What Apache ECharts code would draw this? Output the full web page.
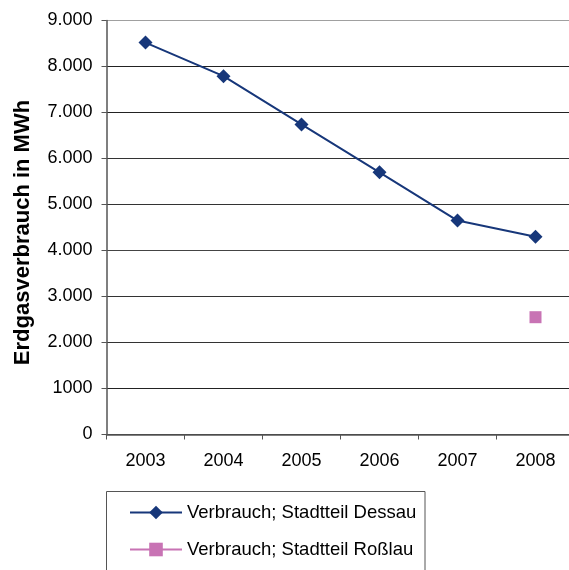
<!DOCTYPE html>
<html>
<head>
<meta charset="utf-8">
<script src="https://cdn.jsdelivr.net/npm/echarts@6/dist/echarts.min.js"></script>
<style>
  html, body { margin: 0; padding: 0; background: #fff; }
  #chart { width: 569px; height: 570px; }
</style>
</head>
<body>
<div id="chart"></div>
<script>
// Years on the category axis
const years = ['2003', '2004', '2005', '2006', '2007', '2008'];
// Natural gas consumption in MWh
const dessau = [8520, 7790, 6740, 5700, 4650, 4300];
const rosslau = [null, null, null, null, null, 2550];
// Value-axis tick labels, from 0 up to 9000
const yTickLabels = ['0', '1000', '2.000', '3.000', '4.000', '5.000', '6.000', '7.000', '8.000', '9.000'];

const font = '"Liberation Sans", Arial, sans-serif';
const chart = echarts.init(document.getElementById('chart'), null, { renderer: 'canvas' });

// interior gridlines dark, top edge of the plot area lighter
const gridColors = ['#333', '#222', '#333', '#333', '#444', '#333', '#333', '#222', '#222', '#a0a0a0'];

chart.setOption({
  animation: false,
  textStyle: { fontFamily: font },
  // the plot area runs slightly past the right edge of the page
  grid: { left: 106.5, top: 20.5, width: 468, height: 414, containLabel: false, outerBoundsMode: 'none' },
  // framed box behind the legend, open at the bottom edge
  graphic: [{
    type: 'rect',
    shape: { x: 106.5, y: 491.5, width: 318.5, height: 100 },
    style: { fill: 'none', stroke: '#555', lineWidth: 1 },
    z: 0
  }],
  xAxis: {
    type: 'category',
    data: years,
    boundaryGap: true,
    axisLine: { lineStyle: { color: '#555', width: 1.5 } },
    axisTick: { show: true, length: 5, lineStyle: { color: '#555' } },
    axisLabel: { color: '#000', fontSize: 18, margin: 18, fontFamily: font }
  },
  yAxis: {
    type: 'value',
    min: 0,
    max: 9000,
    interval: 1000,
    name: 'Erdgasverbrauch in MWh',
    nameLocation: 'middle',
    nameGap: 73,
    nameTextStyle: { color: '#000', fontSize: 22, fontWeight: 'bold', fontFamily: font, padding: [0, 10, 0, 0] },
    axisLine: { show: true, lineStyle: { color: '#555', width: 1.5 } },
    axisTick: { show: true, length: 5, lineStyle: { color: '#555' } },
    axisLabel: {
      color: '#000', fontSize: 18, margin: 14, fontFamily: font,
      formatter: v => yTickLabels[Math.round(v / 1000)]
    },
    splitLine: { show: true, lineStyle: { color: gridColors, width: 1 } }
  },
  legend: {
    orient: 'vertical',
    left: 107,
    top: 503,
    padding: [0, 0, 0, 22],
    itemGap: 18,
    itemWidth: 52,
    itemHeight: 17,
    textStyle: { color: '#000', fontSize: 18.5, fontFamily: font },
    data: ['Verbrauch; Stadtteil Dessau', 'Verbrauch; Stadtteil Roßlau']
  },
  series: [
    {
      name: 'Verbrauch; Stadtteil Dessau',
      type: 'line',
      data: dessau,
      symbol: 'diamond',
      symbolSize: 14,
      color: '#17377a',
      lineStyle: { color: '#17377a', width: 2 },
      itemStyle: { color: '#17377a' }
    },
    {
      name: 'Verbrauch; Stadtteil Roßlau',
      type: 'line',
      data: rosslau,
      symbol: 'rect',
      symbolSize: 12,
      showAllSymbol: true,
      color: '#c873b4',
      lineStyle: { color: '#c873b4', width: 2 },
      itemStyle: { color: '#c873b4' }
    }
  ]
});
</script>
</body>
</html>
